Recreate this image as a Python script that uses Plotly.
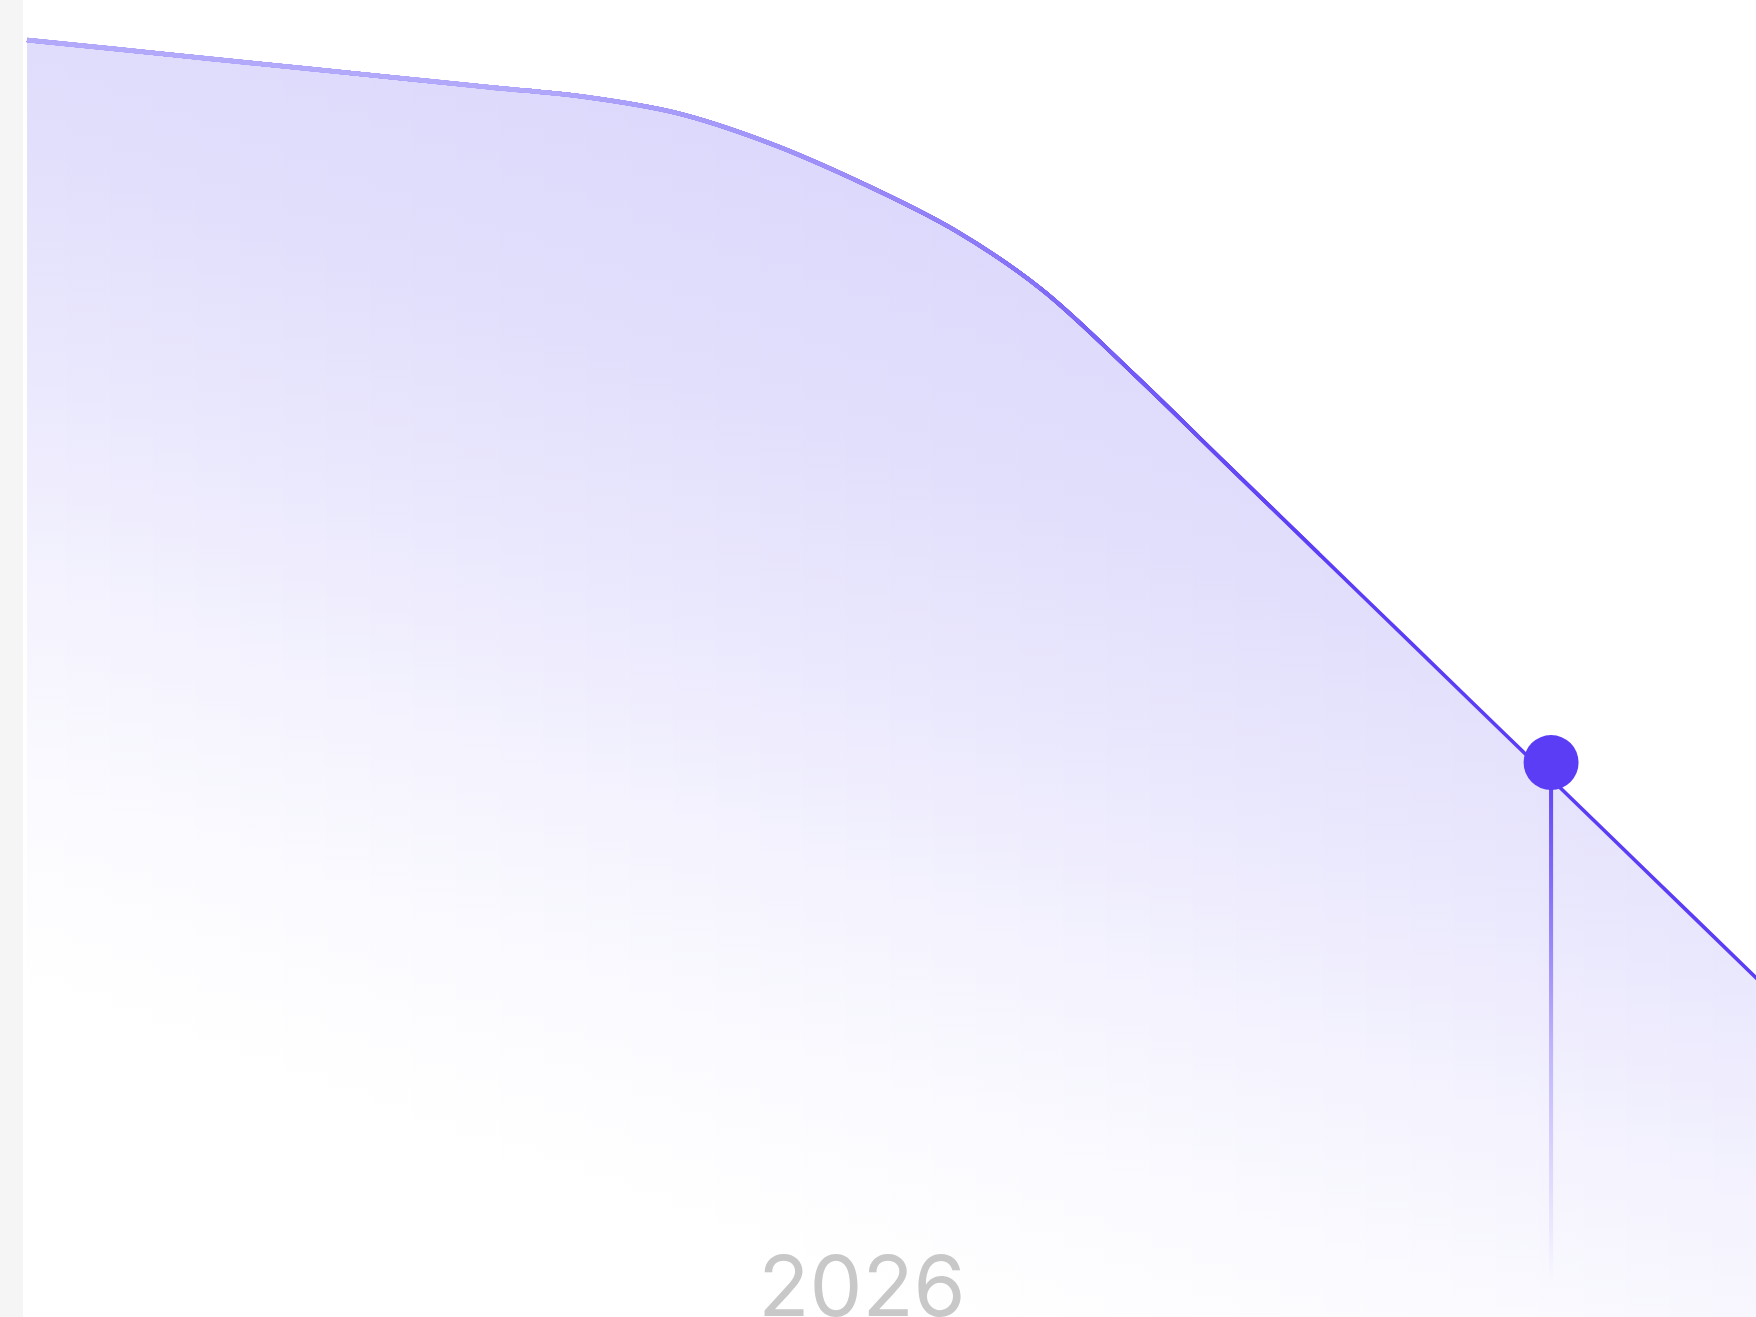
"""
Downward area line (lavender gradient) with a "today" marker.
"""
import plotly.graph_objects as go
import pandas as pd

W, H = 1756, 1317
LEFT = 23                      # grey strip on the left
PLOT_W = W - LEFT

# ---- data -------------------------------------------------------------
months = pd.date_range("2025-04-01", "2026-11-01", freq="MS")
values = [96.96, 96.26, 95.52, 94.82, 94.09, 93.36, 92.67, 91.42, 89.18, 86.10,
          82.46, 78.06, 71.50, 64.78, 57.85, 51.15, 44.21, 37.28, 30.57, 23.64]

marker_date = [pd.Timestamp("2026-08-16")]
marker_value = [42.1]

X_RANGE = [pd.Timestamp("2025-03-30 16:00"), pd.Timestamp("2026-10-22 12:00")]
Y_RANGE = [0, 100]

# ---- style ------------------------------------------------------------
ACCENT = "#5B3DF5"
TICK_COLOR = "#c8c8c8"
STRIP_BG = "#f5f5f5"

# fill colours, measured down the middle of the chart (px from top)
FILL_STOPS = [(160, "#dcd8fc"), (450, "#e2dffc"), (700, "#ebe9fd"),
              (900, "#f4f3fe"), (1120, "#fbfbff"), (1300, "#ffffff")]
FILL_TILT = 0.36               # iso-colour lines rise to the left
FILL_CENTER = 890
N_FILL = 40

# line colour / width along x (px from left)
LINE_STOPS = [(27, "#b9b0fb"), (520, "#b3a9fa"), (650, "#a89df9"), (850, "#9c8ef8"),
              (1000, "#8a77f7"), (1100, "#7862f6"), (1220, "#664bf5"), (1320, "#5b3df5")]
WIDTH_STOPS = [(27, 4.6), (600, 4.4), (1000, 3.9), (1320, 3.6)]


def hex_rgb(c):
    c = c.lstrip("#")
    return tuple(int(c[i:i + 2], 16) for i in (0, 2, 4))


def interp(stops, p, color=True):
    if p <= stops[0][0]:
        return stops[0][1]
    for (p0, a), (p1, b) in zip(stops, stops[1:]):
        if p <= p1:
            t = (p - p0) / (p1 - p0)
            if color:
                ra, rb = hex_rgb(a), hex_rgb(b)
                r = [round(x + (y - x) * t) for x, y in zip(ra, rb)]
                return "#%02x%02x%02x" % tuple(r)
            return a + (b - a) * t
    return stops[-1][1]


def px_to_val(py):
    return Y_RANGE[1] - (Y_RANGE[1] - Y_RANGE[0]) * py / H


span = X_RANGE[1] - X_RANGE[0]


def frac_date(f):
    return X_RANGE[0] + span * f


fig = go.Figure()
layout_axes = {}
axis_n = 0


def new_axis(f0, f1):
    global axis_n
    axis_n += 1
    name = "xaxis" if axis_n == 1 else f"xaxis{axis_n}"
    layout_axes[name] = dict(domain=[f0, f1], range=[str(frac_date(f0)), str(frac_date(f1))],
                             anchor="y", visible=False, type="date", fixedrange=True,
                             automargin=False)
    return "x" if axis_n == 1 else f"x{axis_n}"


# ---- gradient area, drawn in overlapping strips to tilt the gradient ----
for k in range(N_FILL):
    f0 = k / N_FILL
    xc = LEFT + (f0 + 0.5 / N_FILL) * PLOT_W
    dy = FILL_TILT * (xc - FILL_CENTER)
    vals = [(px_to_val(p + dy), c) for p, c in FILL_STOPS]
    start = min(v for v, _ in vals)
    stop = max(v for v, _ in vals)
    scale = sorted([((v - start) / (stop - start), c) for v, c in vals])
    xa = new_axis(f0, 1)
    fig.add_trace(go.Scatter(
        x=months, y=values, xaxis=xa, yaxis="y",
        mode="lines", line=dict(width=0, shape="spline", smoothing=1),
        fill="tozeroy",
        fillgradient=dict(type="vertical", start=start, stop=stop, colorscale=scale),
        hoverinfo="skip",
    ))

# ---- line: dark everywhere, progressively lighter overlays toward the left ----
xa = new_axis(0, 1)
fig.add_trace(go.Scatter(
    x=months, y=values, xaxis=xa, yaxis="y", mode="lines",
    line=dict(color=ACCENT, width=3.6, shape="spline", smoothing=1),
    hoverinfo="skip",
))
for b in range(1320, 519, -40):
    f1 = (b - LEFT) / PLOT_W
    xa = new_axis(0, f1)
    fig.add_trace(go.Scatter(
        x=months, y=values, xaxis=xa, yaxis="y", mode="lines",
        line=dict(color=interp(LINE_STOPS, b - 20),
                  width=interp(WIDTH_STOPS, b - 20, color=False),
                  shape="spline", smoothing=1),
        hoverinfo="skip",
    ))

# ---- top layer: drop line, marker, year tick ----
top = new_axis(0, 1)
layout_axes["xaxis" + (top[1:] if top != "x" else "")].update(
    visible=True, showgrid=False, zeroline=False, showline=False, ticks="",
    dtick="M12", tickformat="%Y", ticklabelposition="inside",
    ticklabelstandoff=-19,
    tickfont=dict(family="Inter", size=84, color=TICK_COLOR),
)

half_w = pd.Timedelta(hours=16)
drop_start = px_to_val(1280)
fig.add_trace(go.Scatter(
    x=[marker_date[0] - half_w, marker_date[0] + half_w],
    y=[marker_value[0], marker_value[0]],
    xaxis=top, yaxis="y", mode="lines", line=dict(width=0),
    fill="tozeroy",
    fillgradient=dict(type="vertical", start=drop_start, stop=marker_value[0],
                      colorscale=[[0, "rgba(91,61,245,0)"],
                                  [0.45, "rgba(91,61,245,0.33)"],
                                  [1, "rgba(91,61,245,1)"]]),
    hoverinfo="skip",
))
fig.add_trace(go.Scatter(
    x=marker_date, y=marker_value, xaxis=top, yaxis="y", mode="markers",
    marker=dict(size=55, color=ACCENT, line=dict(width=0)),
    hoverinfo="skip",
))

fig.update_layout(
    width=W, height=H,
    margin=dict(l=LEFT, r=0, t=0, b=0, pad=0, autoexpand=False),
    paper_bgcolor="white",
    plot_bgcolor="rgba(0,0,0,0)",
    showlegend=False,
    yaxis=dict(domain=[0, 1], range=Y_RANGE, visible=False, fixedrange=True,
               automargin=False),
    shapes=[dict(type="rect", xref="paper", yref="paper",
                 x0=-LEFT / PLOT_W, x1=0, y0=0, y1=1,
                 fillcolor=STRIP_BG, line=dict(width=0), layer="below")],
    **layout_axes,
)

# page body margin would push the fixed-size figure off the corner
fig.write_html("out.html", config={"displayModeBar": False},
               post_script="document.body.style.margin='0px';")
